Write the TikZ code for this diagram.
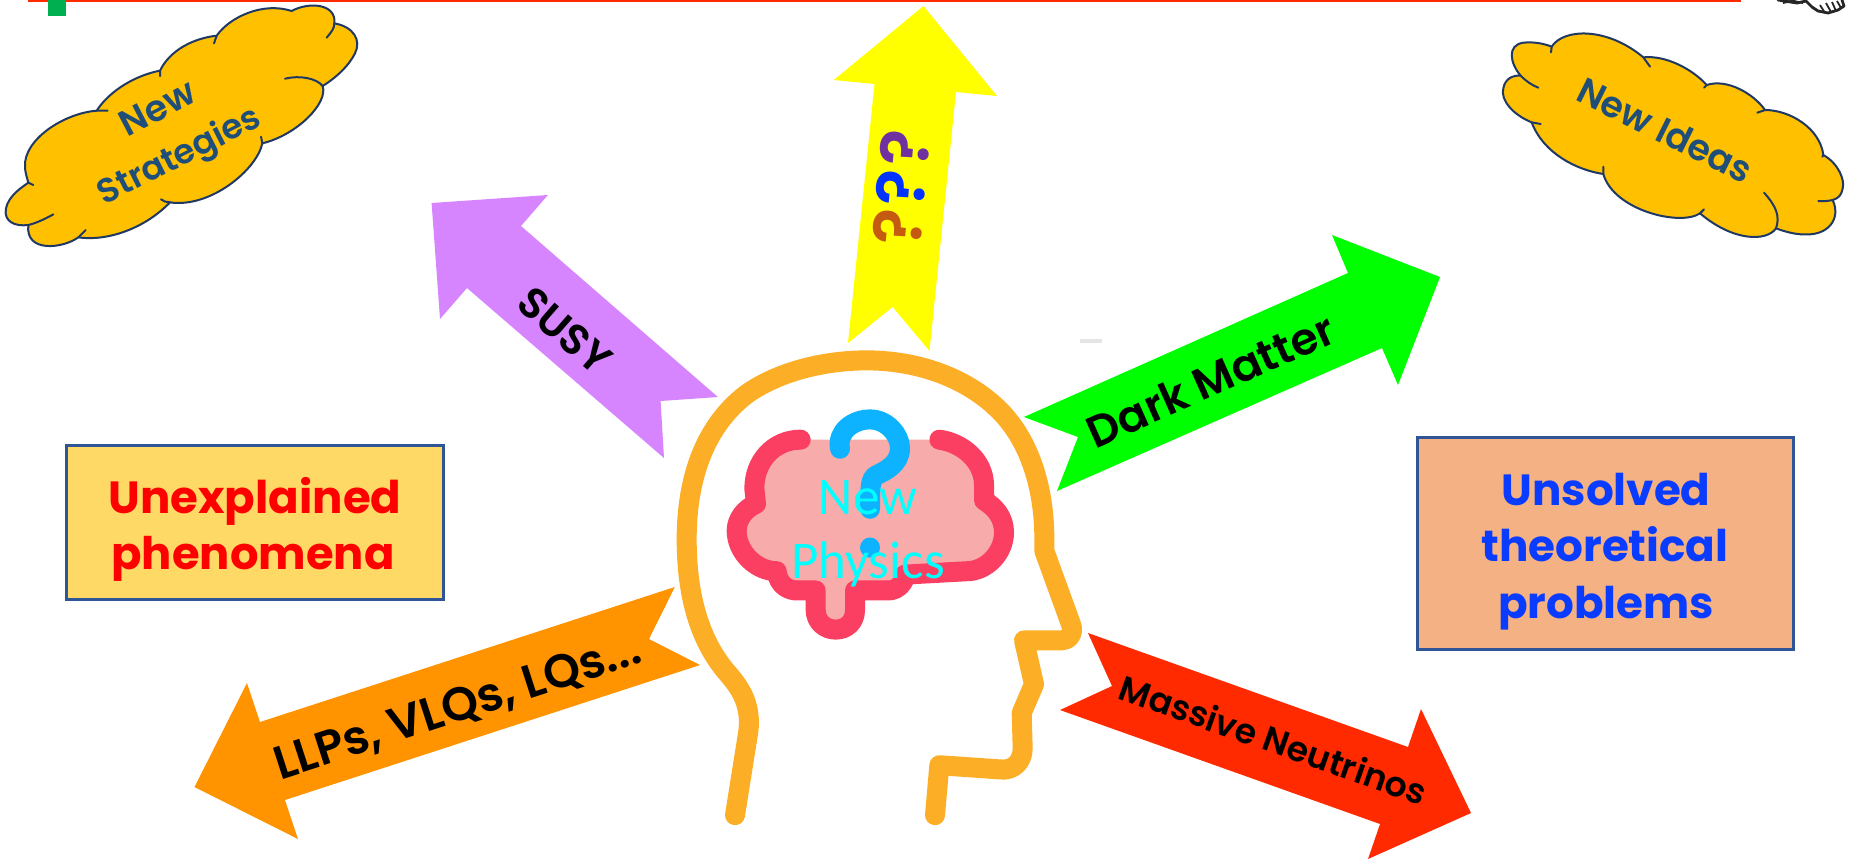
\documentclass[tikz,border=0pt]{standalone}
\usepackage{fontspec}
\usepackage{graphicx}
\setmainfont{Poppins}
\newfontfamily\semib{Poppins SemiBold}
\newfontfamily\bodyfont{Carlito}
\definecolor{headc}{HTML}{FBAE26}
\definecolor{brainc}{HTML}{FB3F62}
\definecolor{brainf}{HTML}{F8ABAB}
\definecolor{qblue}{HTML}{0DB3FF}
\definecolor{cloudf}{HTML}{FFC000}
\definecolor{cloudl}{HTML}{1F3864}
\definecolor{cloudt}{HTML}{1F4E79}
\definecolor{boxl}{HTML}{2F5597}
\definecolor{boxa}{HTML}{FFD966}
\definecolor{boxb}{HTML}{F4B183}
\definecolor{solved}{HTML}{0A3CFF}
\definecolor{redl}{HTML}{FF2A00}
\definecolor{cyantext}{HTML}{00FFFF}
\definecolor{redtext}{HTML}{FF0000}
\definecolor{arrowy}{HTML}{FFFF00}
\definecolor{arrowp}{HTML}{D685FF}
\definecolor{arrowg}{HTML}{00FF00}
\definecolor{arrowr}{HTML}{FF2A00}
\definecolor{arrowo}{HTML}{FF9300}
\definecolor{greenbit}{HTML}{00B050}
\newcommand{\fitw}[2]{\resizebox{\dimexpr #1pt/2\relax}{!}{#2}}
\tikzset{
  lbl/.style={inner sep=0pt,anchor=base,font=\fontsize{20}{24}\selectfont\semib},
  boxlbl/.style={inner sep=0pt,anchor=base,font=\fontsize{20}{24}\selectfont\bfseries},
  cloudshape/.style={fill=cloudf,draw=cloudl,line width=1pt,line join=round},
  cloudhook/.style={draw=cloudl,line width=1pt,line cap=round},
  boxshape/.style={draw=boxl,line width=1.5pt},
  headline/.style={draw=headc,line width=10pt,line cap=round,line join=round},
  brainline/.style={draw=brainc,line width=10pt,line cap=round,line join=round}
}
\begin{document}
\begin{tikzpicture}[x=0.5pt,y=-0.5pt]
\useasboundingbox (0,0) rectangle (1853,859);
\fill[white] (0,0) rectangle (1853,859);
% top decorations
\fill[redl] (28,0) rectangle (1741,2);
\fill[greenbit] (48,0) rectangle (66,16);
\draw[black!85,line width=1.4pt,line join=round,line cap=round]
  (1778,0) -- (1797,3) -- (1806,1) -- (1812,7) -- (1818,11) -- (1828,13) -- (1838,10) -- (1844,6) -- (1842,0);
\draw[black!85,line width=0.9pt] (1820,5) -- (1825,13) (1826,3) -- (1831,12) (1832,2) -- (1836,11) (1837,1) -- (1841,8) (1790,0) -- (1803,3) (1783,3) -- (1795,0);
\fill[black!10] (1080,339) rectangle (1102,343);

% arrows
\fill[arrowy] (923.5,6) -- (997,96) -- (956,92) -- (929.5,351) -- (892.7,307) -- (848,343) -- (874.5,84) -- (833.8,80) -- cycle;
\fill[arrowp] (431.6,203) -- (547.9,195) -- (521,226) -- (717.9,397) -- (660.6,401) -- (664,458) -- (467,288) -- (440,319) -- cycle;
\fill[arrowg] (1440,277) -- (1398,385) -- (1382,348) -- (1057,491) -- (1078,437) -- (1024,417) -- (1348,273) -- (1332,235) -- cycle;
\fill[arrowr] (1471,813) -- (1368,859) -- (1380,824) -- (1060,710) -- (1112,686) -- (1088,633) -- (1408,747) -- (1421,709) -- cycle;
\fill[arrowo] (194.5,787) -- (247,683) -- (260,722) -- (674.8,587) -- (649,639) -- (700,665) -- (285,800) -- (298,839) -- cycle;

\node[lbl,rotate=-41] (susy) at (555,342) {\fitw{108}{SUSY}};
\node[lbl,rotate=24] (dm) at (1217,395) {\fitw{266}{Dark Matter}};
\node[lbl,rotate=-19.4] (mn) at (1269,752) {\fitw{323}{Massive Neutrinos}};
\node[lbl,rotate=18] (llp) at (462,721) {\fitw{382}{LLPs, VLQs, LQs...}};
\node[lbl,rotate=85] (qqq) at (925.5,190) {\fitw{116}{\textcolor[HTML]{C55A11}{?}\hspace{0.05em}\textcolor[HTML]{0033FF}{?}\hspace{0.05em}\textcolor[HTML]{7030A0}{?}}};

% head
\begin{scope}[xshift=325pt,yshift=-165pt,x=0.16667pt,y=-0.16869pt]
\draw[headline] (255,1438) -- (295,1190) .. controls (305,1110) and (270,1060) .. (235,1020)
  .. controls (150,925) and (110,790) .. (110,620)
  .. controls (110,430) and (170,280) .. (290,190)
  .. controls (390,120) and (530,90) .. (650,90)
  .. controls (800,90) and (950,140) .. (1050,240)
  .. controls (1140,330) and (1183,470) .. (1183,620)
  -- (1183,655) -- (1262,870) .. controls (1275,900) and (1255,920) .. (1235,920)
  -- (1122,920) -- (1152,1050) -- (1115,1135) -- (1118,1240)
  .. controls (1118,1280) and (1090,1303) .. (1060,1303)
  -- (868,1290) -- (855,1438);
\fill[brainf] (452,325) .. controls (370,325) and (313,390) .. (313,470) -- (318,515)
  .. controls (285,530) and (260,560) .. (260,595)
  .. controls (260,660) and (320,715) .. (380,715)
  .. controls (385,760) and (420,772) .. (440,772) -- (497,772)
  -- (497,830) .. controls (497,865) and (525,888) .. (557,888)
  .. controls (590,888) and (615,865) .. (615,830)
  -- (615,772) -- (715,772) .. controls (745,772) and (765,745) .. (765,725)
  -- (950,715) .. controls (1010,715) and (1062,660) .. (1062,600)
  .. controls (1062,555) and (1035,525) .. (1002,505)
  -- (1002,460) .. controls (1002,390) and (940,335) .. (868,325) -- cycle;
\draw[brainline] (452,325) .. controls (370,325) and (313,390) .. (313,470) -- (318,515)
  .. controls (285,530) and (260,560) .. (260,595)
  .. controls (260,660) and (320,715) .. (380,715)
  .. controls (385,760) and (420,772) .. (440,772) -- (497,772)
  -- (497,830) .. controls (497,865) and (525,888) .. (557,888)
  .. controls (590,888) and (615,865) .. (615,830)
  -- (615,772) -- (715,772) .. controls (745,772) and (765,745) .. (765,725)
  -- (950,715) .. controls (1010,715) and (1062,660) .. (1062,600)
  .. controls (1062,555) and (1035,525) .. (1002,505)
  -- (1002,460) .. controls (1002,390) and (940,335) .. (868,325);
\draw[draw=qblue,line width=10pt,line cap=round] (570,352) .. controls (560,300) and (610,265) .. (660,265)
  .. controls (710,265) and (750,310) .. (750,350)
  .. controls (750,400) and (700,420) .. (680,430)
  .. controls (660,440) and (660,470) .. (660,530);
\fill[qblue] (660,645) circle[radius=30];
\end{scope}
\node[inner sep=0pt,anchor=base,text=cyantext,font=\bodyfont\fontsize{26.5}{30}\selectfont] (np1) at (868,514) {New};
\node[inner sep=0pt,anchor=base,text=cyantext,font=\bodyfont\fontsize{26.5}{30}\selectfont] (np2) at (868,578) {Physics};

% boxes
\node[boxshape,fill=boxa,minimum width=188.5pt,minimum height=77pt,inner sep=0pt] (left) at (255,522) {};
\node[boxlbl,text=redtext] (l1) at (255,513) {\fitw{293}{Unexplained}};
\node[boxlbl,text=redtext] (l2) at (253,569) {\fitw{283}{phenomena}};
\node[boxshape,fill=boxb,minimum width=188pt,minimum height=106pt,inner sep=0pt] (right) at (1605,543) {};
\node[boxlbl,text=solved] (r1) at (1606,505) {\fitw{209}{Unsolved}};
\node[boxlbl,text=solved] (r2) at (1605,561) {\fitw{247}{theoretical}};
\node[boxlbl,text=solved] (r3) at (1606,618) {\fitw{216}{problems}};

% left cloud
\begin{scope}[x=0.16667pt,y=-0.16667pt]
\path[cloudshape] (75,500) .. controls (70,420) and (190,340) .. (290,332)
  .. controls (330,270) and (410,225) .. (480,212)
  .. controls (510,150) and (580,115) .. (650,107)
  .. controls (690,50) and (790,5) .. (875,33)
  .. controls (925,5) and (1010,10) .. (1003,70)
  .. controls (1060,80) and (1085,120) .. (1065,160)
  .. controls (1045,200) and (1005,235) .. (968,258)
  .. controls (985,310) and (890,405) .. (787,430)
  .. controls (770,510) and (630,625) .. (510,607)
  .. controls (440,680) and (330,725) .. (235,712)
  .. controls (190,745) and (75,760) .. (85,675)
  .. controls (45,680) and (10,665) .. (18,625)
  .. controls (25,590) and (60,565) .. (85,548)
  .. controls (80,530) and (75,515) .. (75,500) -- cycle;
\draw[cloudhook] (323,332) -- (290,332) (480,228) -- (480,212) (642,130) -- (650,107)
  (1003,70) .. controls (1003,85) and (995,95) .. (980,113)
  (855,236) .. controls (900,225) and (950,235) .. (968,258)
  (783,410) -- (787,430)
  (483,598) .. controls (490,604) and (500,607) .. (510,607)
  (257,690) -- (235,712)
  (160,643) .. controls (130,660) and (105,670) .. (85,675)
  (100,555) -- (85,548);
\end{scope}
\node[lbl,rotate=27.5,text=cloudt] (c1) at (163,119) {\fitw{80}{New}};
\node[lbl,rotate=26.8,text=cloudt] (c2) at (184,165) {\fitw{178}{Strategies}};

% right cloud
\begin{scope}[xshift=740pt,x=0.16667pt,y=-0.16667pt]
\path[cloudshape] (215,140) .. controls (250,85) and (380,80) .. (490,172)
  .. controls (560,165) and (640,210) .. (680,255)
  .. controls (740,235) and (820,280) .. (855,330)
  .. controls (930,330) and (1020,385) .. (1030,465)
  .. controls (1075,490) and (1095,540) .. (1088,565)
  .. controls (1085,585) and (1075,595) .. (1058,600)
  .. controls (1085,660) and (1040,705) .. (980,703)
  .. controls (950,705) and (915,695) .. (888,685)
  .. controls (860,725) and (760,725) .. (660,640)
  .. controls (600,680) and (400,630) .. (370,522)
  .. controls (290,510) and (190,460) .. (155,367)
  .. controls (100,345) and (60,300) .. (70,265)
  .. controls (75,235) and (100,225) .. (122,227)
  .. controls (90,190) and (80,135) .. (130,128)
  .. controls (160,125) and (190,130) .. (215,140) -- cycle;
\draw[cloudhook] (215,140) -- (213,157)
  (490,172) -- (510,200)
  (672,263) -- (680,255)
  (832,338) -- (855,330)
  (1030,465) -- (1027,470)
  (1015,603) .. controls (1030,604) and (1045,603) .. (1058,600)
  (852,578) .. controls (890,620) and (900,650) .. (888,685)
  (672,628) -- (660,640)
  (370,500) -- (370,522)
  (182,372) -- (155,367)
  (122,227) .. controls (140,245) and (155,255) .. (175,263);
\end{scope}
\node[lbl,rotate=-26.5,text=cloudt] (c3) at (1659,142) {\fitw{190}{New Ideas}};
\end{tikzpicture}
\end{document}
